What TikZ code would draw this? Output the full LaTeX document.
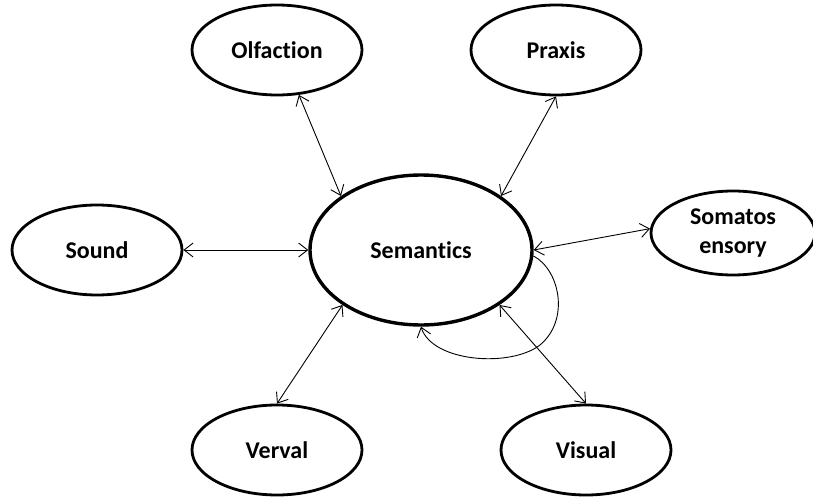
\documentclass[tikz,border=0pt]{standalone}
\usepackage{fontspec}
\setmainfont{Carlito}[Ligatures=CommonOff]
\usetikzlibrary{shapes.geometric,arrows.meta}
\begin{document}
\begin{tikzpicture}[x=1pt,y=-1pt,
  bubble/.style={ellipse,draw,line width=2.8pt,inner sep=0pt,
    minimum width=170pt,minimum height=90pt,
    font=\fontsize{24}{29}\selectfont\bfseries,align=center},
  link/.style={line width=0.9pt,{Straight Barb[length=9pt,width=14pt]}-{Straight Barb[length=9pt,width=14pt]}},
  loop/.style={line width=0.9pt,-{Straight Barb[length=9pt,width=14pt]}}]
\useasboundingbox (0,0) rectangle (813,497);
\node[bubble,line width=3.4pt,minimum width=222pt,minimum height=150pt] (sem) at (421,250) {Semantics};
\node[bubble] (olf) at (277,50) {Olfaction};
\node[bubble] (pra) at (556,50) {Praxis};
\node[bubble] (snd) at (97,250) {Sound};
\node[bubble,minimum width=164pt,minimum height=84pt] (som) at (733,233) {Somatos\\ensory};
\node[bubble] (ver) at (277,450) {Verval};
\node[bubble] (vis) at (586,450) {Visual};
\draw[link] (olf.-64) -- (sem.146);
\draw[link] (pra.-90) -- (sem.34.5);
\draw[link] (snd.east) -- (sem.west);
\draw[link] (som.177) -- (sem.east);
\draw[link] (ver.90) -- (sem.-145);
\draw[link] (vis.90) -- (sem.-35);
\coordinate (lp) at (540,345);
\draw[loop] (sem.-3) .. controls (560,270) and (570,320) .. (lp)
  .. controls (510,368) and (432,362) .. (sem.south);
\end{tikzpicture}
\end{document}
